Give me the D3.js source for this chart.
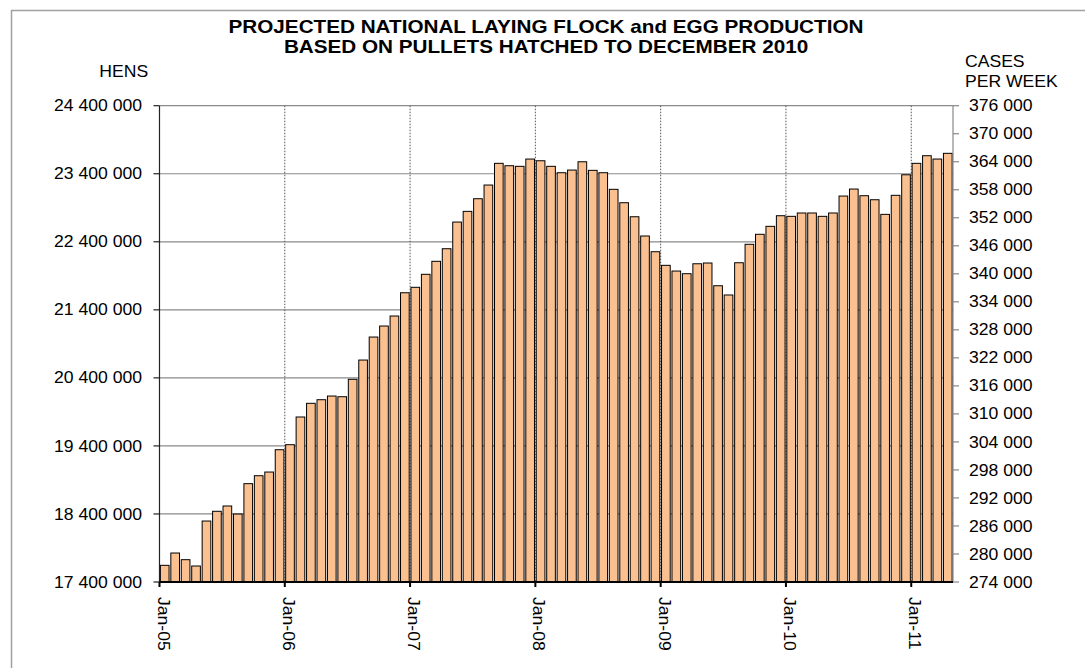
<!DOCTYPE html>
<html><head><meta charset="utf-8">
<script src="https://cdn.jsdelivr.net/npm/d3@7"></script>
<style>
body{margin:0;background:#fff}
svg{display:block}
text{font-family:"Liberation Sans",Arial,sans-serif;fill:#000}
</style>
</head><body>
<svg id="c" width="1085" height="668"></svg>
<script>
const months = [
 "Jan-05","Feb-05","Mar-05","Apr-05","May-05","Jun-05","Jul-05","Aug-05","Sep-05","Oct-05","Nov-05","Dec-05",
 "Jan-06","Feb-06","Mar-06","Apr-06","May-06","Jun-06","Jul-06","Aug-06","Sep-06","Oct-06","Nov-06","Dec-06",
 "Jan-07","Feb-07","Mar-07","Apr-07","May-07","Jun-07","Jul-07","Aug-07","Sep-07","Oct-07","Nov-07","Dec-07",
 "Jan-08","Feb-08","Mar-08","Apr-08","May-08","Jun-08","Jul-08","Aug-08","Sep-08","Oct-08","Nov-08","Dec-08",
 "Jan-09","Feb-09","Mar-09","Apr-09","May-09","Jun-09","Jul-09","Aug-09","Sep-09","Oct-09","Nov-09","Dec-09",
 "Jan-10","Feb-10","Mar-10","Apr-10","May-10","Jun-10","Jul-10","Aug-10","Sep-10","Oct-10","Nov-10","Dec-10",
 "Jan-11","Feb-11","Mar-11","Apr-11"];
const hens = [
 17645000,17826000,17728000,17635000,18296000,18439000,18517000,18399000,18845000,18962000,19016000,19344000,
 19418000,19825000,20026000,20079000,20133000,20123000,20379000,20662000,21000000,21162000,21309000,21651000,
 21731000,21922000,22113000,22298000,22690000,22847000,23033000,23234000,23553000,23518000,23509000,23616000,
 23591000,23509000,23415000,23454000,23576000,23450000,23415000,23171000,22974000,22768000,22485000,22254000,
 22054000,21970000,21931000,22077000,22088000,21754000,21618000,22092000,22363000,22510000,22627000,22783000,
 22774000,22823000,22823000,22774000,22823000,23072000,23175000,23077000,23018000,22803000,23083000,23385000,
 23553000,23665000,23616000,23700000];
const xTickLabels = ["Jan-05","Jan-06","Jan-07","Jan-08","Jan-09","Jan-10","Jan-11"];
const henTicks = [17400000,18400000,19400000,20400000,21400000,22400000,23400000,24400000];
const caseTicks = [274000,280000,286000,292000,298000,304000,310000,316000,322000,328000,334000,340000,
 346000,352000,358000,364000,370000,376000];
const titleLines = ["PROJECTED NATIONAL LAYING FLOCK and EGG PRODUCTION","BASED ON PULLETS HATCHED TO DECEMBER 2010"];
const leftTitle = "HENS";
const rightTitle = ["CASES","PER WEEK"];

const svg = d3.select("#c");
const L = 159.5, R = 953, T = 105.7, B = 582;
const fmt = v => d3.format(",")(v).replace(/,/g, " ");

const x = d3.scaleBand().domain(months).range([L, R]).paddingInner(0.17).paddingOuter(0.085);
const y = d3.scaleLinear().domain([henTicks[0], henTicks[henTicks.length-1]]).range([B, T]);
const y2 = d3.scaleLinear().domain([caseTicks[0], caseTicks[caseTicks.length-1]]).range([B, T]);
const tickX = m => x(m) - x.step() * x.paddingInner() / 2;

// frame
svg.append("rect").attr("x", 11.5).attr("y", 10.5).attr("width", 1200).attr("height", 800)
  .attr("fill", "none").attr("stroke", "#a0a0a0").attr("stroke-width", 1.5);

// horizontal gridlines
svg.append("g").selectAll("line").data(henTicks.slice(1)).join("line")
  .attr("x1", L).attr("x2", R).attr("y1", d => y(d)).attr("y2", d => y(d))
  .attr("stroke", "#8a8a8a").attr("stroke-width", 1.2);

// vertical gridlines (dotted)
svg.append("g").selectAll("line").data(xTickLabels.slice(1)).join("line")
  .attr("x1", d => tickX(d)).attr("x2", d => tickX(d)).attr("y1", T).attr("y2", B)
  .attr("stroke", "#555").attr("stroke-width", 1).attr("stroke-dasharray", "1.5,1.5");

// bars
svg.append("g").selectAll("rect").data(hens).join("rect")
  .attr("x", (d, i) => x(months[i])).attr("width", x.bandwidth())
  .attr("y", d => y(d)).attr("height", d => B - y(d))
  .attr("fill", "#FAC090").attr("stroke", "#000").attr("stroke-width", 1);

// left axis
const gl = svg.append("g");
gl.append("line").attr("x1", L).attr("x2", L).attr("y1", T).attr("y2", B).attr("stroke", "#222").attr("stroke-width", 1.2);
gl.selectAll("line.t").data(henTicks).join("line").attr("class", "t")
  .attr("x1", L - 6).attr("x2", L).attr("y1", d => y(d)).attr("y2", d => y(d))
  .attr("stroke", "#222").attr("stroke-width", 1.2);
gl.selectAll("text").data(henTicks).join("text")
  .attr("transform", d => `translate(142,${y(d)}) scale(1.1,1)`)
  .attr("text-anchor", "end").attr("dy", "0.35em").attr("font-size", 16)
  .text(d => fmt(d));

// right axis
const gr = svg.append("g");
gr.append("line").attr("x1", R).attr("x2", R).attr("y1", T).attr("y2", B).attr("stroke", "#888").attr("stroke-width", 1.2);
gr.selectAll("line.t").data(caseTicks).join("line").attr("class", "t")
  .attr("x1", R).attr("x2", R + 6).attr("y1", d => y2(d)).attr("y2", d => y2(d))
  .attr("stroke", "#888").attr("stroke-width", 1.2);
gr.selectAll("text").data(caseTicks).join("text")
  .attr("transform", d => `translate(969,${y2(d)}) scale(1.1,1)`)
  .attr("text-anchor", "start").attr("dy", "0.35em").attr("font-size", 16)
  .text(d => fmt(d));

// bottom axis
const gb = svg.append("g");
gb.append("line").attr("x1", L).attr("x2", R).attr("y1", B).attr("y2", B).attr("stroke", "#000").attr("stroke-width", 2.2);
gb.selectAll("line.t").data(xTickLabels).join("line").attr("class", "t")
  .attr("x1", d => tickX(d)).attr("x2", d => tickX(d)).attr("y1", B).attr("y2", B + 5)
  .attr("stroke", "#000").attr("stroke-width", 2);
gb.selectAll("text").data(xTickLabels).join("text")
  .attr("transform", d => `translate(${tickX(d) - 2},597) rotate(90) scale(1.1,1)`)
  .attr("text-anchor", "start").attr("font-size", 16)
  .text(d => d);

// titles
svg.append("g").selectAll("text").data(titleLines).join("text")
  .attr("transform", (d, i) => `translate(546,${33.3 + i * 20}) scale(1.15,1)`)
  .attr("text-anchor", "middle").attr("font-size", 18).attr("font-weight", "bold")
  .text(d => d);

svg.append("text").attr("transform", "translate(99.3,77) scale(1.1,1)").attr("font-size", 16).text(leftTitle);
svg.append("g").selectAll("text").data(rightTitle).join("text")
  .attr("transform", (d, i) => `translate(965,${66.7 + i * 20}) scale(1.1,1)`)
  .attr("font-size", 16).text(d => d);
</script>
</body></html>
